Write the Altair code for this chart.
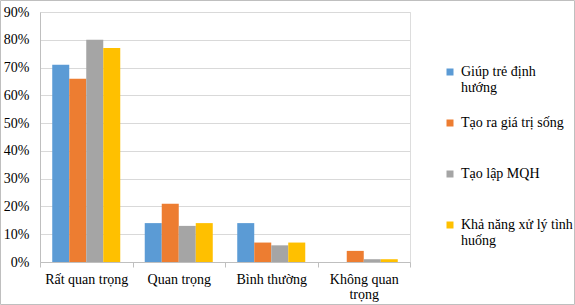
import altair as alt
import pandas as pd

categories = ["Rất quan trọng", "Quan trọng", "Bình thường", "Không quan trọng"]
series = ["Giúp trẻ định hướng", "Tạo ra giá trị sống", "Tạo lập MQH", "Khả năng xử lý tình huống"]
colors = ["#5B9BD5", "#ED7D31", "#A5A5A5", "#FFC000"]
values = {
    "Giúp trẻ định hướng": [0.71, 0.14, 0.14, 0.0],
    "Tạo ra giá trị sống": [0.66, 0.21, 0.07, 0.04],
    "Tạo lập MQH": [0.80, 0.13, 0.06, 0.01],
    "Khả năng xử lý tình huống": [0.77, 0.14, 0.07, 0.01],
}

rows = []
for s in series:
    for c, v in zip(categories, values[s]):
        rows.append({"cat": c, "series": s, "value": v})
df = pd.DataFrame(rows)

FONT = "Times New Roman"

bars = alt.Chart(df).mark_bar().encode(
    x=alt.X("cat:N", sort=categories, title=None,
            scale=alt.Scale(paddingInner=0, paddingOuter=0),
            axis=alt.Axis(labelAngle=0, tickBand="extent", domainColor="#bfbfbf",
                          tickColor="#bfbfbf", tickSize=5, labelPadding=5,
                          labelFont=FONT, labelFontSize=14, labelColor="#000000",
                          labelLineHeight=15,
                          labelExpr="datum.value == 'Không quan trọng' ? ['Không quan', 'trọng'] : datum.value")),
    xOffset=alt.XOffset("series:N", sort=series,
                        scale=alt.Scale(paddingInner=0, paddingOuter=0.72)),
    y=alt.Y("value:Q", title=None,
            scale=alt.Scale(domain=[0, 0.9]),
            axis=alt.Axis(format=".0%", values=[i / 10 for i in range(10)],
                          tickCount=10, ticks=False, domain=True, domainColor="#bfbfbf",
                          gridColor="#d9d9d9", labelPadding=11,
                          labelFont=FONT, labelFontSize=14, labelColor="#000000")),
    color=alt.Color("series:N", sort=series,
                    scale=alt.Scale(domain=series, range=colors),
                    legend=alt.Legend(title=None, orient="none", legendX=403, legendY=53,
                                      symbolType="square", symbolSize=49,
                                      symbolStrokeWidth=0, labelFont=FONT,
                                      labelFontSize=14, labelColor="#000000",
                                      labelLimit=200, labelOffset=4,
                                      rowPadding=21,
                                      labelExpr="datum.value == 'Giúp trẻ định hướng' ? ['Giúp trẻ định', 'hướng'] : datum.value == 'Khả năng xử lý tình huống' ? ['Khả năng xử lý tình', 'huống'] : [datum.value, ' ']")),
)

frame = alt.Chart(pd.DataFrame({"k": [0]})).mark_rect(
    fill=None, stroke="#bfbfbf", strokeWidth=1
).encode(
    x=alt.value(-39.5), x2=alt.value(534.5), y=alt.value(-11.5), y2=alt.value(292.5)
)

chart = alt.layer(bars, frame).properties(
    width=370, height=250,
    autosize=alt.AutoSizeParams(type="none"),
    padding={"left": 40, "top": 12, "right": 165, "bottom": 43},
).configure_view(stroke=None).configure(background="#ffffff", font=FONT)

chart.save("out.html", embed_options={"renderer": "svg", "actions": False})
